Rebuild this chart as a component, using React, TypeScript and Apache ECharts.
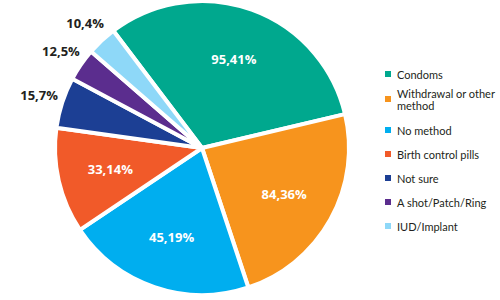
import React, { useEffect, useRef } from "react";
import * as echarts from "echarts";

// Categories in clockwise order starting at the top-left
const categories = [
  "Condoms",
  "Withdrawal or other method",
  "No method",
  "Birth control pills",
  "Not sure",
  "A shot/Patch/Ring",
  "IUD/Implant",
];
// Percentages printed on the chart
const printedPercent = [95.41, 84.36, 45.19, 33.14, 15.7, 12.5, 10.4];
// Share of the circle each slice occupies as drawn
const sliceShare = [31.6, 23.6, 20.7, 11.6, 5.6, 3.6, 3.3];
const colors = ["#00a88e", "#f7941d", "#00aeef", "#f15a29", "#1c3f94", "#5b2d8e", "#8ed8f8"];

const START_ANGLE = 127.1;
const CX = 202;
const CY = 148;
const RADIUS = 147;

function fmt(v: number) {
  return String(v).replace(".", ",") + "%";
}

function wrap(name: string) {
  if (name.length <= 20) return name;
  const i = name.lastIndexOf(" ", 20);
  return name.slice(0, i) + "\n" + name.slice(i + 1);
}

export default function App() {
  const ref = useRef<HTMLDivElement>(null);
  useEffect(() => {
    if (!ref.current) return;
    const chart = echarts.init(ref.current, null, { renderer: "svg" });
    const total = sliceShare.reduce((a, b) => a + b, 0);
    const mids: number[] = [];
    let acc = 0;
    sliceShare.forEach((s) => {
      mids.push(START_ANGLE - ((acc + s / 2) / total) * 360);
      acc += s;
    });
    const isInside = (i: number) => sliceShare[i] / total > 0.1;

    const data = categories.map((name, i) => ({
      name,
      value: sliceShare[i],
      itemStyle: { color: colors[i] },
      label: {
        color: isInside(i) ? "#ffffff" : "#231f20",
      },
    }));

    const legendText = {
      color: "#231f20",
      fontFamily: "Lato",
      fontSize: 11,
      lineHeight: 12,
    };
    const legendCommon = {
      orient: "vertical" as const,
      left: 383,
      padding: 0,
      itemWidth: 8,
      itemHeight: 8,
      icon: "rect",
      selectedMode: false,
      formatter: (n: string) => wrap(n),
      textStyle: legendText,
    };

    chart.setOption({
      animation: false,
      legend: [
        {
          ...legendCommon,
          top: 68,
          itemGap: 1,
          data: [
            { name: categories[0] },
            { name: categories[1], textStyle: { padding: [12, 0, 0, 0] } },
          ],
        },
        {
          ...legendCommon,
          top: 124,
          itemGap: 12,
          data: categories.slice(2).map((name) => ({ name })),
        },
      ],
      series: [
        {
          type: "pie",
          center: [CX, CY],
          radius: [0, RADIUS],
          startAngle: START_ANGLE,
          clockwise: true,
          data,
          itemStyle: { borderColor: "#ffffff", borderWidth: 4 },
          label: {
            show: true,
            position: "inside",
            fontFamily: "Open Sans",
            fontWeight: "bold",
            fontSize: 13,
            formatter: (p: any) => fmt(printedPercent[p.dataIndex]),
          },
          labelLine: { show: false },
          labelLayout: (p: any) => {
            const i = p.dataIndex;
            const r = isInside(i) ? RADIUS * 0.64 : RADIUS * 1.165;
            const a = (mids[i] * Math.PI) / 180;
            return {
              x: CX + r * Math.cos(a),
              y: CY - r * Math.sin(a),
              align: "center",
              verticalAlign: "middle",
              hideOverlap: false,
            };
          },
          emphasis: { disabled: true },
        },
      ],
    });
    return () => chart.dispose();
  }, []);
  return (
    <div
      ref={ref}
      style={{ position: "fixed", left: 0, top: 0, width: 500, height: 300, background: "#fff" }}
    />
  );
}
